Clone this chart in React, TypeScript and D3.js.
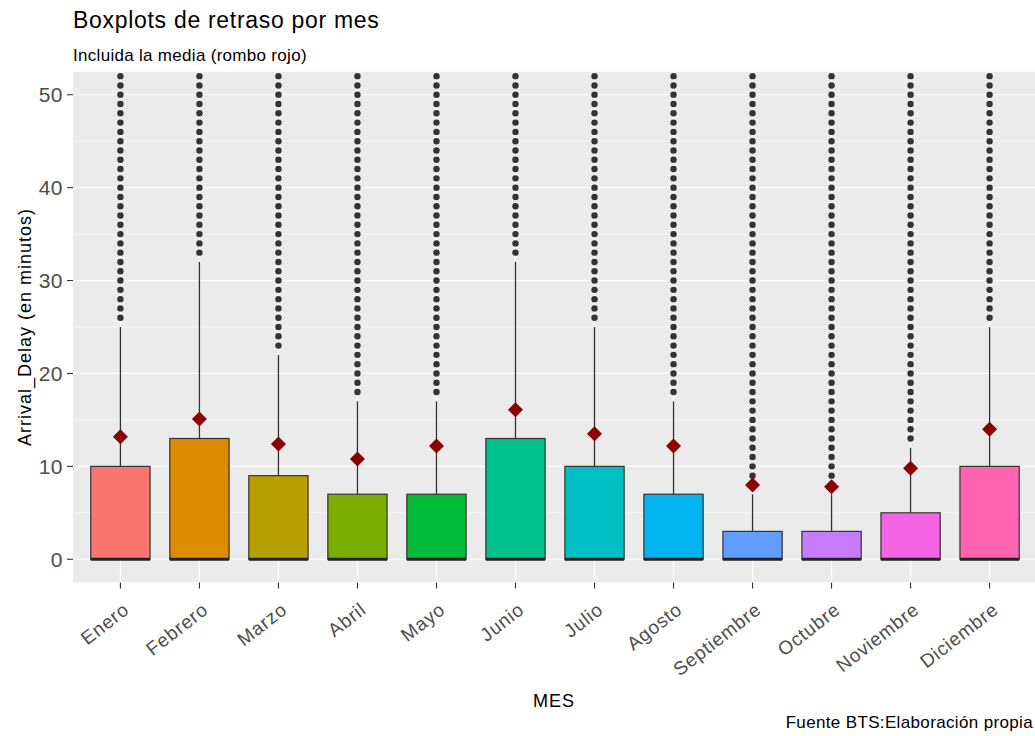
import React from "react";
import * as d3 from "d3";

const months = ["Enero","Febrero","Marzo","Abril","Mayo","Junio","Julio","Agosto","Septiembre","Octubre","Noviembre","Diciembre"];
const q1 = [0,0,0,0,0,0,0,0,0,0,0,0];
const medians = [0,0,0,0,0,0,0,0,0,0,0,0];
const q3 = [10,13,9,7,7,13,10,7,3,3,5,10];
const whiskerHigh = [25,32,22,17,17,32,25,17,7,7,12,25];
const means = [13.2,15.1,12.4,10.8,12.2,16.1,13.5,12.2,8.0,7.8,9.8,14.0];
const outlierFrom = [26,33,23,18,18,33,26,18,8,8,13,26];
const outlierTo = 52;
const fills = ["#F8766D","#DE8C00","#B79F00","#7CAE00","#00BA38","#00C08B","#00BFC4","#00B4F0","#619CFF","#C77CFF","#F564E3","#FF64B0"];
const yMajor = [0,10,20,30,40,50];
const yMinor = [5,15,25,35,45];

const W = 1035, H = 736;
const PL = 73, PR = 1037, PT = 71.5, PB = 582.5;

export default function App() {
  const x = d3.scaleLinear().domain([0.4, 12.6]).range([PL, PR]);
  const y = d3.scaleLinear().domain([-2.5, 52.5]).range([PB, PT]);
  const bw = (x(1.75) - x(1));
  const font = "'Liberation Sans', Arial, sans-serif";
  const diamond = (cx: number, cy: number, r: number) => `M${cx},${cy - r}L${cx + r},${cy}L${cx},${cy + r}L${cx - r},${cy}Z`;

  return (
    <svg width={W} height={H} style={{ position: "absolute", left: 0, top: 0, background: "#fff" }} fontFamily={font}>
      <defs>
        <clipPath id="panel"><rect x={PL} y={PT} width={PR - PL} height={PB - PT} /></clipPath>
      </defs>
      <rect x={0} y={0} width={W} height={H} fill="#fff" />
      <text x={73} y={28} fontSize={23} letterSpacing={0.7} fill="#000">Boxplots de retraso por mes</text>
      <text x={73} y={61} fontSize={17} letterSpacing={0.3} fill="#000">Incluida la media (rombo rojo)</text>

      <g clipPath="url(#panel)">
        <rect x={PL} y={PT} width={PR - PL} height={PB - PT} fill="#EBEBEB" />
        {yMinor.map(v => <line key={"mi" + v} x1={PL} x2={PR} y1={y(v)} y2={y(v)} stroke="#fff" strokeWidth={0.6} />)}
        {yMajor.map(v => <line key={"ma" + v} x1={PL} x2={PR} y1={y(v)} y2={y(v)} stroke="#fff" strokeWidth={1.2} />)}
        {months.map((m, i) => <line key={"vx" + m} x1={x(i + 1)} x2={x(i + 1)} y1={PT} y2={PB} stroke="#fff" strokeWidth={1.2} />)}

        {months.map((m, i) => {
          const cx = x(i + 1);
          const outs = d3.range(outlierFrom[i], outlierTo + 1);
          return (
            <g key={"b" + m}>
              <line x1={cx} x2={cx} y1={y(q3[i])} y2={y(whiskerHigh[i])} stroke="#333" strokeWidth={1.3} />
              <rect x={cx - bw / 2} y={y(q3[i])} width={bw} height={y(q1[i]) - y(q3[i])} fill={fills[i]} stroke="#333" strokeWidth={1.2} />
              <line x1={cx - bw / 2} x2={cx + bw / 2} y1={y(medians[i])} y2={y(medians[i])} stroke="#222" strokeWidth={3} />
              {outs.map(v => <circle key={v} cx={cx} cy={y(v)} r={3.2} fill="#333" />)}
            </g>
          );
        })}
        {months.map((m, i) => (
          <path key={"mean" + m} d={diamond(x(i + 1), y(means[i]), 7.5)} fill="#8B0000" />
        ))}
      </g>

      {yMajor.map(v => (
        <g key={"yt" + v}>
          <line x1={PL - 6} x2={PL} y1={y(v)} y2={y(v)} stroke="#333" strokeWidth={1.1} />
          <text x={63} y={y(v) + 7.5} fontSize={21} letterSpacing={0.5} textAnchor="end" fill="#4D4D4D">{v}</text>
        </g>
      ))}
      <text transform={`translate(31,${(PT + PB) / 2}) rotate(-90)`} fontSize={18} letterSpacing={1.0} textAnchor="middle" fill="#000">Arrival_Delay (en minutos)</text>

      {months.map((m, i) => (
        <g key={"xt" + m}>
          <line x1={x(i + 1)} x2={x(i + 1)} y1={PB} y2={PB + 6} stroke="#333" strokeWidth={1.1} />
          <text transform={`translate(${x(i + 1) + 10},612) rotate(-38)`} fontSize={19} letterSpacing={0.8} textAnchor="end" fill="#4D4D4D">{m}</text>
        </g>
      ))}
      <text x={(PL + 1035) / 2} y={707} fontSize={18} letterSpacing={1} textAnchor="middle" fill="#000">MES</text>
      <text x={1033} y={728} fontSize={17} letterSpacing={0.35} textAnchor="end" fill="#000">Fuente BTS:Elaboración propia</text>
    </svg>
  );
}
